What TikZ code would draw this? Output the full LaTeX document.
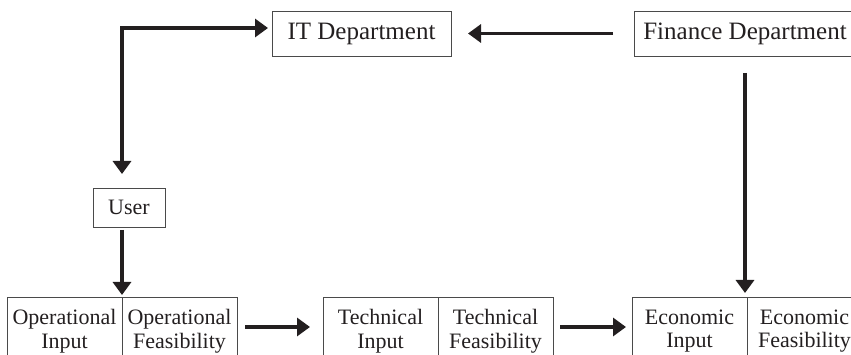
\documentclass[tikz,border=0pt]{standalone}
\usepackage{fontspec}
\setmainfont{Liberation Serif}
\usepackage{xcolor}
\usetikzlibrary{arrows.meta,positioning}
\definecolor{inkblack}{HTML}{231F20}
\definecolor{boxgray}{HTML}{4A4A4A}

\begin{document}
\begin{tikzpicture}[
    x=1pt, y=-1pt,
    arr/.style={line width=3.5pt, draw=inkblack, -{Triangle[length=13pt, width=18pt]}},
    topbox/.style={draw=boxgray, line width=0.9pt, inner sep=0pt, outer sep=0pt, minimum height=45pt, font=\fontsize{25}{28}\selectfont, text=inkblack},
    userbox/.style={draw=boxgray, line width=0.9pt, inner sep=0pt, outer sep=0pt, minimum width=72pt, minimum height=39pt, font=\fontsize{22}{24}\selectfont, text=inkblack},
    halfbox/.style={draw=boxgray, line width=0.9pt, inner sep=0pt, outer sep=0pt, align=center, text width=108pt, minimum width=115pt, minimum height=68pt, font=\fontsize{22}{23.5}\selectfont, text=inkblack}
]
\useasboundingbox (0,0) rectangle (851,355);
\clip (0,0) rectangle (851,355);

\node[topbox, minimum width=179pt] (itdep) at (361.5,33.5) {IT Department};
\node[topbox, minimum width=222pt] (finance) at (745,33.5) {Finance Department};
\node[userbox] (user) at (129,207.5) {User};

\node[halfbox, anchor=north west] (opin) at (7,297) {Operational\\Input};
\node[halfbox, right=0pt of opin] (opfeas) {Operational\\Feasibility};
\node[halfbox, right=86pt of opfeas] (techin) {Technical\\Input};
\node[halfbox, right=0pt of techin] (techfeas) {Technical\\Feasibility};
\node[halfbox, right=79pt of techfeas] (ecin) {Economic\\Input};
\node[halfbox, right=0pt of ecin] (ecfeas) {Economic\\Feasibility};

\path (opin.east |- itdep.west) ++(0,-5.5) coordinate (bend);

\draw[arr, {Triangle[length=13pt, width=18pt]}-{Triangle[length=13pt, width=18pt]}, shorten <=14pt, shorten >=4pt]
    (bend |- user.north) -- (bend) -- (bend -| itdep.west);
\draw[arr] ([yshift=-3pt]user.south -| opin.east) -- ([yshift=2pt]opin.north east);
\draw[arr] ([xshift=-21pt]finance.west) -- ([xshift=17pt]itdep.east);
\draw[arr] ([yshift=-17pt]finance.south) -- ([yshift=4pt]finance.south |- ecin.north);
\draw[arr] ([xshift=8pt, yshift=4pt]opfeas.east) -- ([xshift=-13pt, yshift=4pt]techin.west);
\draw[arr] ([xshift=7pt, yshift=4pt]techfeas.east) -- ([xshift=-6pt, yshift=4pt]ecin.west);
\end{tikzpicture}
\end{document}
